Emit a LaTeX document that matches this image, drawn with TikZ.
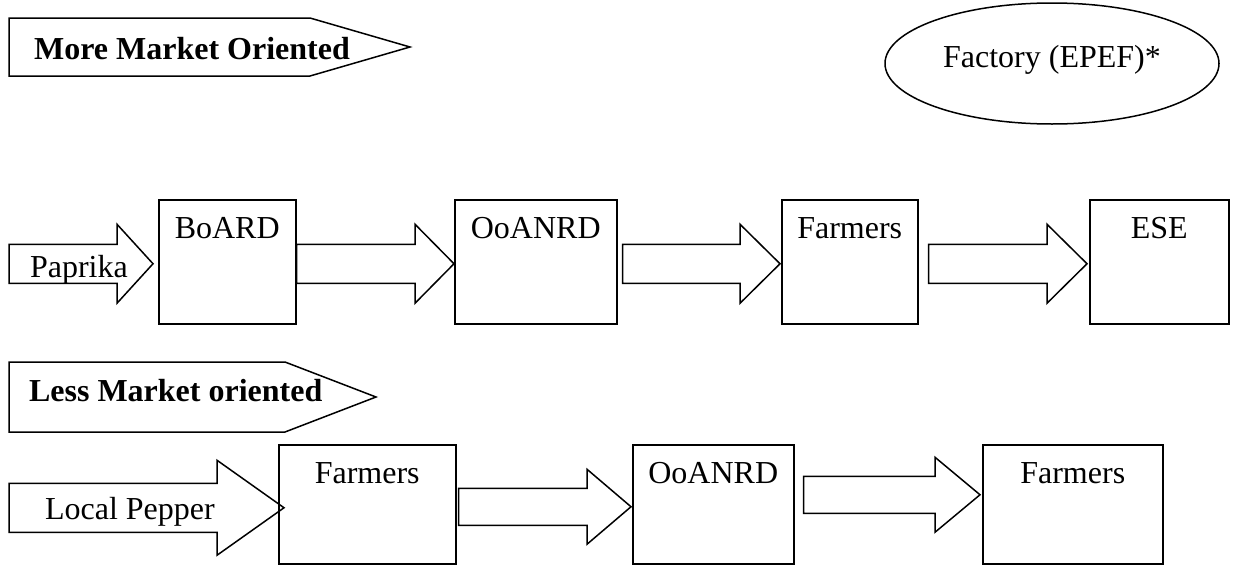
\documentclass[tikz,border=0pt]{standalone}
\usepackage{fontspec}
\setmainfont{Liberation Serif}
\usetikzlibrary{calc,shapes.geometric}

\begin{document}
\begin{tikzpicture}[x=1pt,y=-1pt,line width=1.5pt,
    every node/.style={font=\fontsize{32pt}{38pt}\selectfont},
    box/.style={draw,inner sep=0pt,anchor=north west,text height=39pt},
    tag/.style={draw,line join=miter},
    tagtext/.style={anchor=base west,font=\fontsize{32pt}{38pt}\selectfont\bfseries},
    blockarrow/.style n args={3}{draw,to path={let \p1=(\tikztostart), \p2=(\tikztotarget) in
        (\x1,\y2+#1) -- (\x2-#3,\y2+#1) -- (\x2-#3,\y2+#2) -- (\x2,\y2)
        -- (\x2-#3,\y2-#2) -- (\x2-#3,\y2-#1) -- (\x1,\y2-#1) -- cycle}}]
        \useasboundingbox (0,0) rectangle (1236,565);

        % more market oriented
        \draw[tag] (9,18) -- (310,18) -- (410,47) -- (310,76) -- (9,76) -- cycle;
        \node[tagtext] (more) at (30,59) {More Market Oriented};
        \node[ellipse,draw,inner sep=0pt,minimum width=334pt,minimum height=121pt,
              text height=22pt,text depth=15pt] (epef) at (1052,63.5) {Factory (EPEF)*};

        \node[box,minimum width=137pt,text depth=85pt] (board)   at ( 158,199) {BoARD};
        \node[box,minimum width=162pt,text depth=85pt] (ooanrd)  at ( 454,199) {OoANRD};
        \node[box,minimum width=136pt,text depth=85pt] (farmA)   at ( 781,199) {Farmers};
        \node[box,minimum width=139pt,text depth=85pt] (ese)     at (1089,199) {ESE};

        \coordinate (papstart) at (9,263);
        \draw[blockarrow={19.5pt}{39.5pt}{36pt}] (papstart) to ([xshift=-5pt,yshift=-2pt]board.west);
        \node[anchor=base west] (paprika) at (26,277) {Paprika};
        \draw[blockarrow={19.5pt}{39.5pt}{39pt}] (board.east) to ([yshift=-2pt]ooanrd.west);
        \draw[blockarrow={19.5pt}{39.5pt}{40pt}] ([xshift=5pt]ooanrd.east) to ([xshift=-1pt,yshift=-2pt]farmA.west);
        \draw[blockarrow={19.5pt}{39.5pt}{40pt}] ([xshift=10pt]farmA.east) to ([xshift=-2pt,yshift=-2pt]ese.west);

        % less market oriented
        \draw[tag] (9,362) -- (285,362) -- (376,397) -- (285,432) -- (9,432) -- cycle;
        \node[tagtext] (less) at (25,401) {Less Market oriented};

        \node[box,minimum width=177pt,text depth=80pt] (farmB)   at ( 278,444) {Farmers};
        \node[box,minimum width=161pt,text depth=80pt] (ooanrdB) at ( 632,444) {OoANRD};
        \node[box,minimum width=180pt,text depth=80pt] (farmC)   at ( 982,444) {Farmers};

        \coordinate (pepstart) at (9,507);
        \draw[blockarrow={24.5pt}{47.5pt}{67pt}] (pepstart) to ([xshift=6pt,yshift=-3.5pt]farmB.west);
        \node[anchor=base west] (pepper) at (41,519) {Local Pepper};
        \draw[blockarrow={18.5pt}{37.5pt}{44pt}] ([xshift=2pt]farmB.east) to ([xshift=-1pt,yshift=-2.5pt]ooanrdB.west);
        \draw[blockarrow={18.5pt}{37.5pt}{45pt}] ([xshift=9pt]ooanrdB.east) to ([xshift=-2pt,yshift=9.5pt]farmC.west);
      \end{tikzpicture}
\end{document}
